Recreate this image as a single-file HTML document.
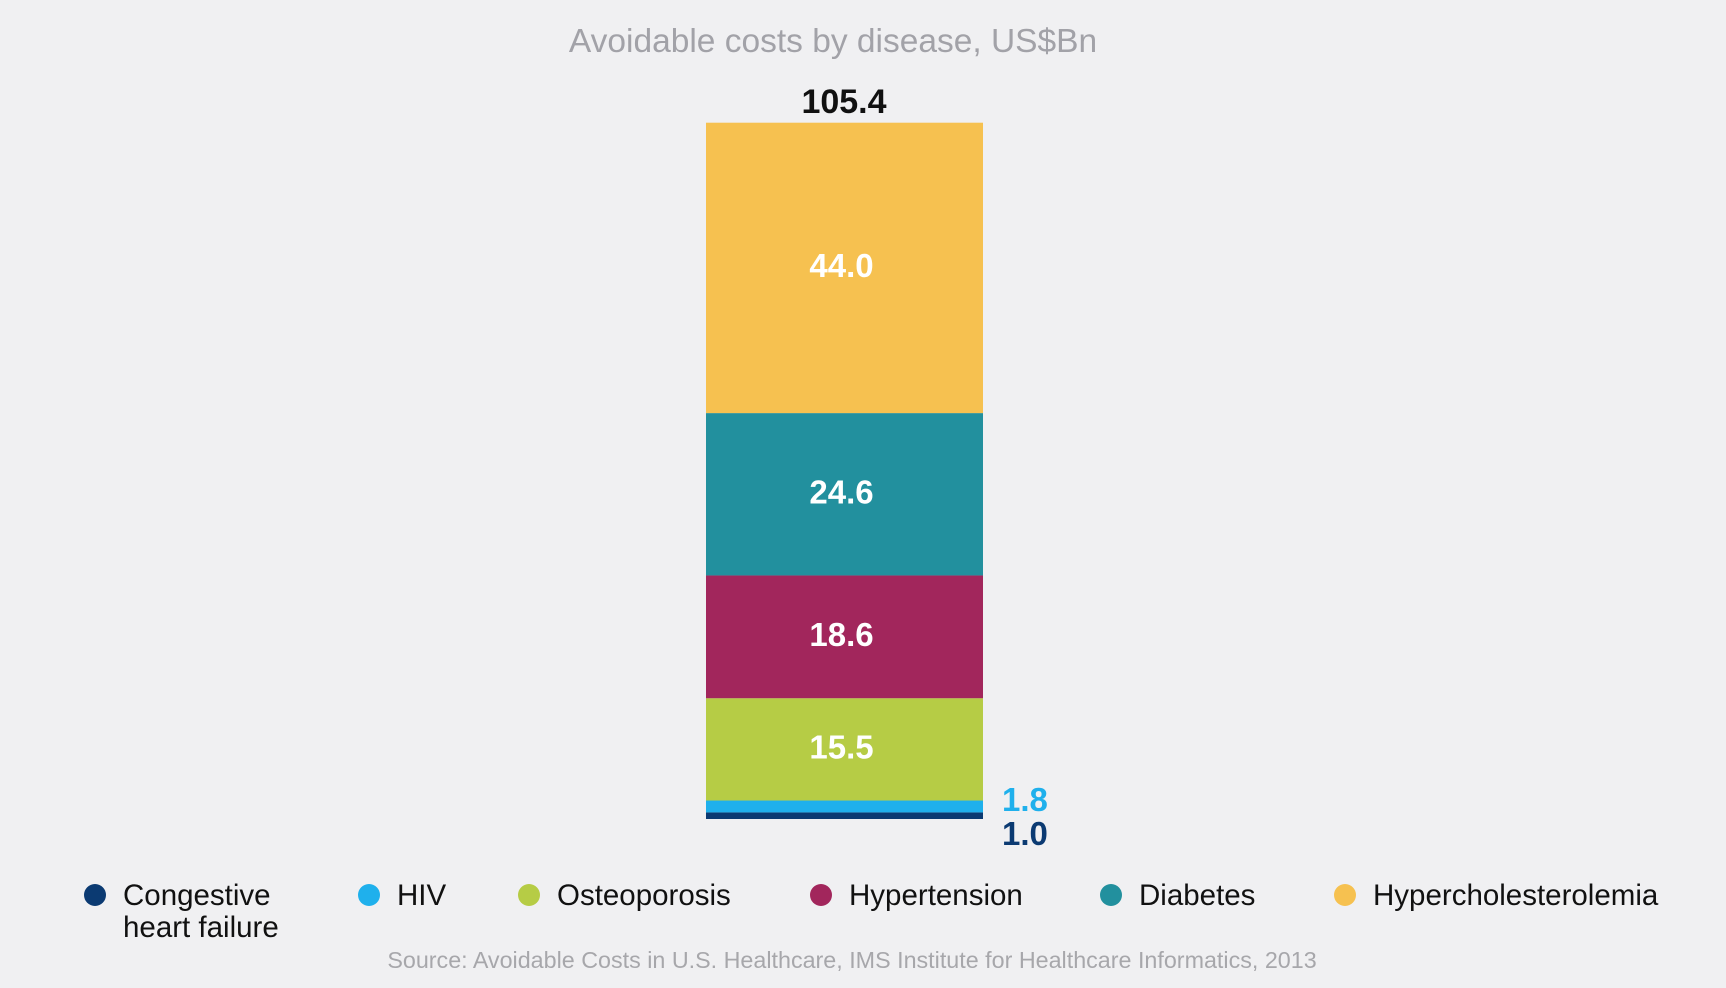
<!DOCTYPE html>
<html><head><meta charset="utf-8"><style>
html,body{margin:0;padding:0;background:#f0f0f2;}
svg{display:block;font-family:"Liberation Sans",sans-serif;}
</style></head><body>
<svg id="chart" width="1726" height="988" viewBox="0 0 1726 988">
<rect width="1726" height="988" fill="#f0f0f2"/>
<text x="833" y="52" text-anchor="middle" font-size="33.5" fill="#a2a2a8">Avoidable costs by disease, US$Bn</text>
<text id="total" x="844" y="113" text-anchor="middle" font-size="34" font-weight="bold" fill="#111">105.4</text>
<g id="bars"></g>
<g id="legend"></g>
<text x="852" y="968" text-anchor="middle" font-size="23.3" fill="#a7a7ab">Source: Avoidable Costs in U.S. Healthcare, IMS Institute for Healthcare Informatics, 2013</text>
</svg>
<script>
const categories = ["Congestive heart failure","HIV","Osteoporosis","Hypertension","Diabetes","Hypercholesterolemia"];
const values = [1.0, 1.8, 15.5, 18.6, 24.6, 44.0];
const labels = ["1.0","1.8","15.5","18.6","24.6","44.0"];
const colors = ["#0b3a72","#1fb0ec","#b6cc45","#a2265c","#22909e","#f6c150"];
const NS="http://www.w3.org/2000/svg";
const x0=706, x1=983, baseY=819, pxPerUnit=6.6;
function y(v){return baseY - v*pxPerUnit;}
const bars=document.getElementById('bars');
let cum=0;
values.forEach((v,i)=>{
  const r=document.createElementNS(NS,'rect');
  r.setAttribute('x',x0); r.setAttribute('width',x1-x0);
  r.setAttribute('y',y(cum+v)); r.setAttribute('height',y(cum)-y(cum+v));
  r.setAttribute('fill',colors[i]);
  
  
  bars.appendChild(r);
  const t=document.createElementNS(NS,'text');
  t.setAttribute('font-weight','bold');
  t.setAttribute('font-size','33');
  if(i<2){
    t.setAttribute('x',1002);
    t.setAttribute('fill',colors[i]);
    t.setAttribute('y', i===0 ? 845 : 811);
  } else {
    t.setAttribute('x',(x0+x1)/2 - 3);
    t.setAttribute('text-anchor','middle');
    t.setAttribute('fill','#fff');
    t.setAttribute('y',(y(cum)+y(cum+v))/2+9);
  }
  t.textContent=labels[i];
  
  
  bars.appendChild(t);
  cum+=v;
});
const legend=document.getElementById('legend');
const dotX=[95,369,529,821,1111,1345];
categories.forEach((c,i)=>{
  const g=document.createElementNS(NS,'g');
  
  
  const d=document.createElementNS(NS,'circle');
  d.setAttribute('cx',dotX[i]); d.setAttribute('cy',895); d.setAttribute('r',11);
  d.setAttribute('fill',colors[i]);
  g.appendChild(d);
  const t=document.createElementNS(NS,'text');
  t.setAttribute('x',dotX[i]+28); t.setAttribute('y',905);
  t.setAttribute('font-size','29.5'); t.setAttribute('fill','#111');
  if(i===0){
    const a=document.createElementNS(NS,'tspan'); a.setAttribute('x',dotX[i]+28); a.textContent="Congestive";
    const b=document.createElementNS(NS,'tspan'); b.setAttribute('x',dotX[i]+28); b.setAttribute('dy',32); b.textContent="heart failure";
    t.appendChild(a); t.appendChild(b);
  } else t.textContent=c;
  g.appendChild(t);
  legend.appendChild(g);
});
</script>
</body></html>
